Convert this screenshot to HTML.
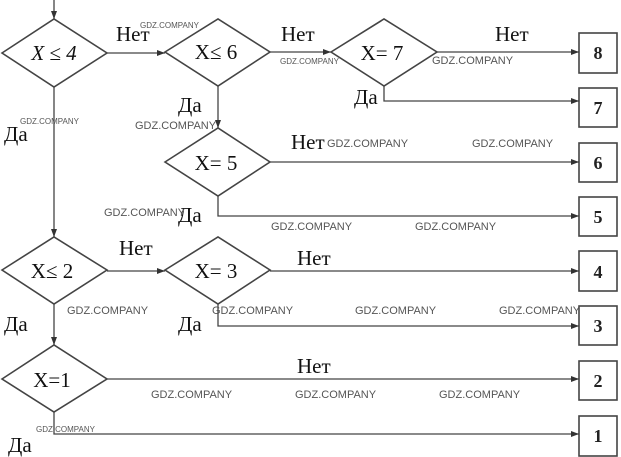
<!DOCTYPE html>
<html><head><meta charset="utf-8"><style>
html,body{margin:0;padding:0;background:#fff;}
svg{display:block;}
.t{font-family:"Liberation Serif",serif;font-size:21px;fill:#111;}
.w{font-family:"Liberation Sans",sans-serif;font-size:11px;fill:#555;transform-box:fill-box;}
.n{font-family:"Liberation Serif",serif;font-size:18px;fill:#222;font-weight:bold;}
</style></head><body>
<svg width="621" height="457" viewBox="0 0 621 457" xmlns="http://www.w3.org/2000/svg">
<defs><marker id="a" markerWidth="8" markerHeight="6" refX="8" refY="3" orient="auto" markerUnits="userSpaceOnUse"><path d="M0,0 L8,3 L0,6 Z" fill="#333"/></marker></defs>
<g fill="none" stroke="#444" stroke-width="1.6">
<polygon points="2,53 54,19 107,53 54,87"/>
<polygon points="165,52 218,19 270,52 218,86"/>
<polygon points="331,52 384,19 437,52 384,86"/>
<polygon points="165,162 218,128 270,162 218,196"/>
<polygon points="2,270 54,237 107,270 54,304"/>
<polygon points="165,270 218,237 270,270 218,304"/>
<polygon points="2,379 54,345 107,379 54,412"/>
<rect x="579" y="33" width="38" height="40"/>
<rect x="579" y="88" width="38" height="39"/>
<rect x="579" y="143" width="38" height="39"/>
<rect x="579" y="197" width="38" height="39"/>
<rect x="579" y="251" width="38" height="40"/>
<rect x="579" y="306" width="38" height="39"/>
<rect x="579" y="361" width="38" height="39"/>
<rect x="579" y="416" width="38" height="40"/>
</g>
<g fill="none" stroke="#444" stroke-width="1.3" marker-end="url(#a)">
<line x1="54" y1="0" x2="54" y2="19"/>
<line x1="107" y1="53" x2="165" y2="53"/>
<line x1="270" y1="52" x2="331" y2="52"/>
<line x1="437" y1="52" x2="579" y2="52"/>
<polyline points="384,86 384,101 579,101"/>
<line x1="218" y1="86" x2="218" y2="128"/>
<line x1="270" y1="162" x2="579" y2="162"/>
<polyline points="218,196 218,216 579,216"/>
<line x1="54" y1="87" x2="54" y2="237"/>
<line x1="107" y1="271" x2="165" y2="271"/>
<line x1="270" y1="271" x2="579" y2="271"/>
<polyline points="218,304 218,326 579,326"/>
<line x1="54" y1="304" x2="54" y2="345"/>
<line x1="107" y1="379" x2="579" y2="379"/>
<polyline points="54,412 54,434 579,434"/>
</g>
<text class="t" x="54" y="60" text-anchor="middle" font-style="italic">X ≤ 4</text>
<text class="t" x="216" y="59" text-anchor="middle">X≤ 6</text>
<text class="t" x="382" y="60" text-anchor="middle">X= 7</text>
<text class="t" x="216" y="170" text-anchor="middle">X= 5</text>
<text class="t" x="52" y="278" text-anchor="middle">X≤ 2</text>
<text class="t" x="216" y="278" text-anchor="middle">X= 3</text>
<text class="t" x="52" y="387" text-anchor="middle">X=1</text>
<text class="t" x="116" y="41">Нет</text>
<text class="t" x="281" y="41">Нет</text>
<text class="t" x="495" y="41">Нет</text>
<text class="t" x="291" y="149">Нет</text>
<text class="t" x="119" y="255">Нет</text>
<text class="t" x="297" y="265">Нет</text>
<text class="t" x="297" y="373">Нет</text>
<text class="t" x="4" y="141">Да</text>
<text class="t" x="178" y="112">Да</text>
<text class="t" x="354" y="104">Да</text>
<text class="t" x="178" y="222">Да</text>
<text class="t" x="4" y="331">Да</text>
<text class="t" x="178" y="331">Да</text>
<text class="t" x="8" y="452">Да</text>
<text class="n" x="598" y="59" text-anchor="middle">8</text>
<text class="n" x="598" y="114" text-anchor="middle">7</text>
<text class="n" x="598" y="169" text-anchor="middle">6</text>
<text class="n" x="598" y="223" text-anchor="middle">5</text>
<text class="n" x="598" y="278" text-anchor="middle">4</text>
<text class="n" x="598" y="332" text-anchor="middle">3</text>
<text class="n" x="598" y="387" text-anchor="middle">2</text>
<text class="n" x="598" y="442" text-anchor="middle">1</text>
<g class="w">
<text x="140" y="28" font-size="8">GDZ.COMPANY</text>
<text x="280" y="64" font-size="8">GDZ.COMPANY</text>
<text x="20" y="124" font-size="8">GDZ.COMPANY</text>
<text x="135" y="129">GDZ.COMPANY</text>
<text x="432" y="64">GDZ.COMPANY</text>
<text x="327" y="147">GDZ.COMPANY</text>
<text x="472" y="147">GDZ.COMPANY</text>
<text x="104" y="216">GDZ.COMPANY</text>
<text x="271" y="230">GDZ.COMPANY</text>
<text x="415" y="230">GDZ.COMPANY</text>
<text x="67" y="314">GDZ.COMPANY</text>
<text x="212" y="314">GDZ.COMPANY</text>
<text x="355" y="314">GDZ.COMPANY</text>
<text x="499" y="314">GDZ.COMPANY</text>
<text x="151" y="398">GDZ.COMPANY</text>
<text x="295" y="398">GDZ.COMPANY</text>
<text x="439" y="398">GDZ.COMPANY</text>
<text x="36" y="432" font-size="8">GDZ.COMPANY</text>
</g>
</svg>
</body></html>
